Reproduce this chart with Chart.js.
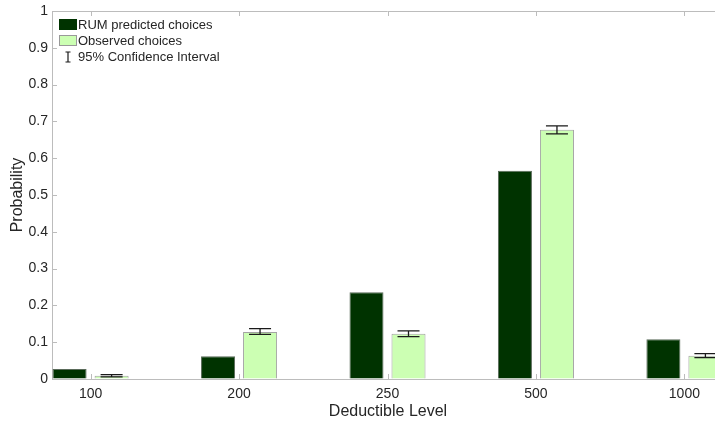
<!DOCTYPE html>
<html>
<head>
<meta charset="utf-8">
<script src="https://cdn.jsdelivr.net/npm/chart.js@4/dist/chart.umd.min.js"></script>
<style>
    html, body { margin: 0; padding: 0; background: #fff; overflow: hidden; }
    #wrap { width: 730px; height: 425px; }
</style>
</head>
<body>
<div id="wrap"><canvas id="deductibleChart"></canvas></div>
<script>
const categories = ['100', '200', '250', '500', '1000'];
const predicted = [0.027, 0.062, 0.236, 0.566, 0.108];
const observed = [0.009, 0.128, 0.123, 0.677, 0.063];
const ciLow = [0.006, 0.121, 0.115, 0.666, 0.058];
const ciHigh = [0.012, 0.137, 0.131, 0.688, 0.069];
const yTicks = [0, 0.1, 0.2, 0.3, 0.4, 0.5, 0.6, 0.7, 0.8, 0.9, 1];

const FONT = "'Liberation Sans', Arial, sans-serif";
const TEXT = '#262626';
const AXIS = '#bcbcbc';
const DARK = '#003300';
const LIGHT = '#ccffb3';

const positions = categories.map((c, i) => i + 1);

// error bars, inner tick marks, legend and axis titles
const decorations = {
    id: 'decorations',
    afterDatasetsDraw(chart) {
        const ctx = chart.ctx;
        const y = chart.scales.y;
        const meta = chart.getDatasetMeta(1);
        ctx.save();
        ctx.strokeStyle = '#1a1a1a';
        ctx.lineWidth = 1.3;
        meta.data.forEach((bar, i) => {
            const cx = bar.x;
            const top = y.getPixelForValue(ciHigh[i]);
            const bot = y.getPixelForValue(ciLow[i]);
            ctx.beginPath();
            ctx.moveTo(cx, top); ctx.lineTo(cx, bot);
            ctx.moveTo(cx - 11, top); ctx.lineTo(cx + 11, top);
            ctx.moveTo(cx - 11, bot); ctx.lineTo(cx + 11, bot);
            ctx.stroke();
        });
        ctx.restore();
    },
    afterDraw(chart) {
        const ctx = chart.ctx;
        const area = chart.chartArea;
        const x = chart.scales.x;
        const y = chart.scales.y;
        ctx.save();

        // box top line and inward ticks
        ctx.strokeStyle = AXIS;
        ctx.lineWidth = 1;
        ctx.beginPath();
        ctx.moveTo(area.left, area.top + 0.5);
        ctx.lineTo(area.right, area.top + 0.5);
        yTicks.forEach(v => {
            const py = Math.round(y.getPixelForValue(v)) + 0.5;
            ctx.moveTo(area.left, py); ctx.lineTo(area.left + 5, py);
        });
        positions.forEach(v => {
            const px = Math.round(x.getPixelForValue(v)) + 0.5;
            ctx.moveTo(px, area.bottom); ctx.lineTo(px, area.bottom - 5);
            ctx.moveTo(px, area.top); ctx.lineTo(px, area.top + 5);
        });
        ctx.stroke();

        // legend
        const lx = area.left + 7;
        const rows = [area.top + 14, area.top + 30, area.top + 46];
        ctx.font = '13px ' + FONT;
        ctx.textBaseline = 'middle';
        ctx.textAlign = 'left';
        ctx.fillStyle = DARK;
        ctx.fillRect(lx, rows[0] - 6, 18, 11);
        ctx.fillStyle = LIGHT;
        ctx.fillRect(lx, rows[1] - 6, 18, 11);
        ctx.strokeStyle = '#999';
        ctx.strokeRect(lx + 0.5, rows[1] - 5.5, 17, 10);
        ctx.strokeStyle = '#1a1a1a';
        ctx.lineWidth = 1.2;
        ctx.beginPath();
        ctx.moveTo(lx + 9, rows[2] - 5); ctx.lineTo(lx + 9, rows[2] + 5);
        ctx.moveTo(lx + 6.5, rows[2] - 5); ctx.lineTo(lx + 11.5, rows[2] - 5);
        ctx.moveTo(lx + 6.5, rows[2] + 5); ctx.lineTo(lx + 11.5, rows[2] + 5);
        ctx.stroke();
        ctx.fillStyle = TEXT;
        ctx.fillText('RUM predicted choices', lx + 19, rows[0]);
        ctx.fillText('Observed choices', lx + 19, rows[1]);
        ctx.fillText('95% Confidence Interval', lx + 19, rows[2]);

        // axis titles
        ctx.font = '16px ' + FONT;
        ctx.textAlign = 'center';
        ctx.fillText('Deductible Level', 388, 412);
        ctx.translate(18, (area.top + area.bottom) / 2);
        ctx.rotate(-Math.PI / 2);
        ctx.fillText('Probability', 0, 0);
        ctx.restore();
    }
};

const ctx = document.getElementById('deductibleChart').getContext('2d');
new Chart(ctx, {
    type: 'bar',
    data: {
        datasets: [{
            label: 'RUM predicted choices',
            data: positions.map((p, i) => ({ x: p, y: predicted[i] })),
            backgroundColor: DARK,
            borderColor: '#5a6b5a',
            borderWidth: 1
        }, {
            label: 'Observed choices',
            data: positions.map((p, i) => ({ x: p, y: observed[i] })),
            backgroundColor: LIGHT,
            borderColor: '#a3a3a3',
            borderWidth: 1
        }]
    },
    options: {
        responsive: true,
        maintainAspectRatio: false,
        animation: false,
        categoryPercentage: 0.566,
        barPercentage: 0.81,
        layout: { padding: { top: 10, right: 7, left: 0, bottom: 0 } },
        plugins: {
            legend: { display: false },
            tooltip: { enabled: false }
        },
        scales: {
            x: {
                type: 'linear',
                min: 0.74,
                max: 5.26,
                offset: false,
                afterBuildTicks: scale => {
                    scale.ticks = positions.map(v => ({ value: v }));
                },
                afterFit: scale => { scale.height = 46; },
                grid: { display: true, drawOnChartArea: false, drawTicks: false, offset: false },
                border: { display: true, color: AXIS },
                ticks: {
                    padding: 7,
                    color: TEXT,
                    font: { family: FONT, size: 14 },
                    callback: v => categories[v - 1]
                }
            },
            y: {
                min: 0,
                max: 1,
                afterBuildTicks: scale => {
                    scale.ticks = yTicks.map(v => ({ value: v }));
                },
                afterFit: scale => { scale.width = 52; },
                grid: { display: true, drawOnChartArea: false, drawTicks: false },
                border: { display: true, color: AXIS },
                ticks: {
                    padding: 4,
                    color: TEXT,
                    font: { family: FONT, size: 14, lineHeight: 1 },
                    callback: v => String(Math.round(v * 10) / 10)
                }
            }
        }
    },
    plugins: [decorations]
});
</script>
</body>
</html>
